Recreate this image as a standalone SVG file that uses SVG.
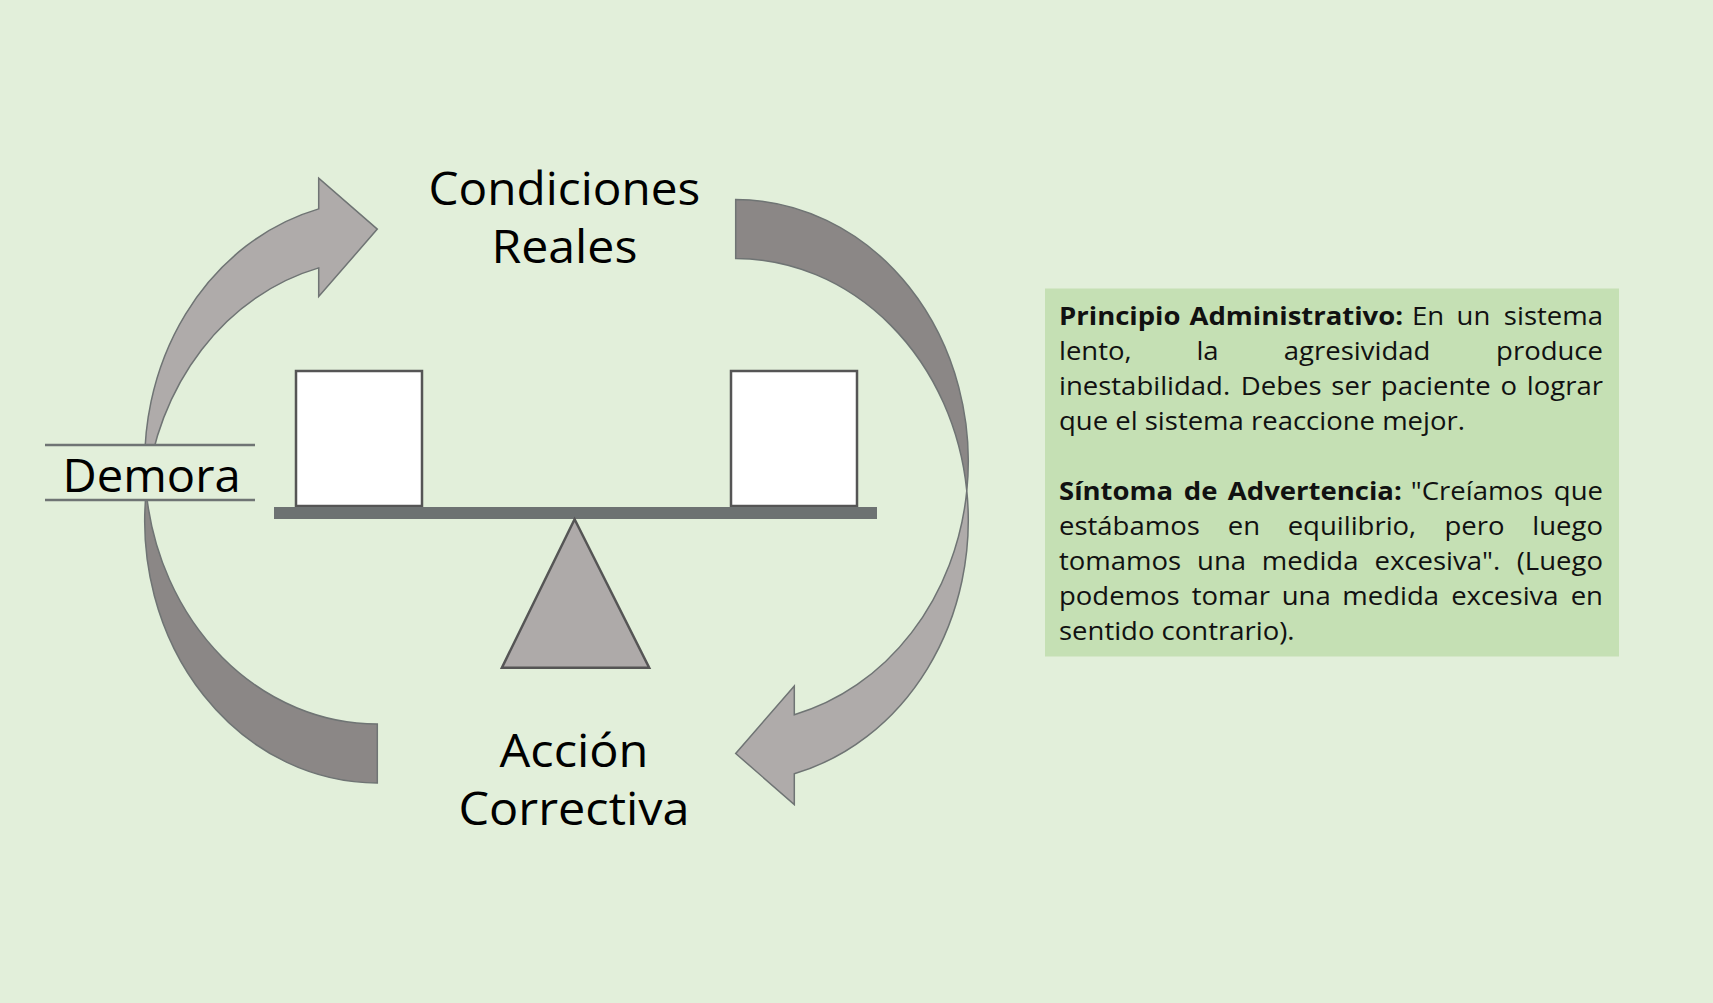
<svg xmlns="http://www.w3.org/2000/svg" width="1713" height="1003" viewBox="0 0 1713 1003">
<style>
.lbl{font-family:"Open Sans","Liberation Sans",sans-serif;font-size:45px;fill:#000;text-anchor:middle}
.body{font-family:"Open Sans","Liberation Sans",sans-serif;font-size:25px;fill:#111}
.b{font-weight:bold}
.e{text-anchor:end}
.dark{fill:#8b8786;stroke:#6f7474;stroke-width:1.5}
.light{fill:#afabaa;stroke:#6f7474;stroke-width:1.5}
.box{fill:#fff;stroke:#555;stroke-width:2.5}
</style>
<defs>
<g id="curvedArrow">
<path class="dark" d="M735.7,199.6 A232.6,261.8 0 0 1 966.8,490.9 A232.6,261.8 0 0 0 735.7,258.6 Z"/>
<path class="light" d="M966.8,490.9 A232.6,261.8 0 0 1 794.3,773.7 L794.3,804.5 L735.7,753.5 L794.3,686 L794.3,714.7 A232.6,261.8 0 0 0 966.8,490.9 Z"/>
</g>
</defs>
<rect x="0" y="0" width="1713" height="1003" fill="#e2efda"/>
<g id="connectors">
<use href="#curvedArrow"/>
<use href="#curvedArrow" transform="rotate(180 556.5 491.3)"/>
</g>
<g id="demora">
<rect x="45" y="445" width="210" height="55" fill="#e2efda"/>
<line x1="45" y1="445" x2="255" y2="445" stroke="#6f7474" stroke-width="2.5"/>
<line x1="45" y1="500" x2="255" y2="500" stroke="#6f7474" stroke-width="2.5"/>
<text class="lbl" x="151.6" y="491.7" textLength="178" lengthAdjust="spacingAndGlyphs">Demora</text>
</g>
<g id="condiciones">
<text class="lbl" x="564.4" y="205" textLength="271.7" lengthAdjust="spacingAndGlyphs">Condiciones</text>
<text class="lbl" x="564.4" y="263.3" textLength="146" lengthAdjust="spacingAndGlyphs">Reales</text>
</g>
<g id="accion">
<text class="lbl" x="574" y="766.7" textLength="149" lengthAdjust="spacingAndGlyphs">Acción</text>
<text class="lbl" x="574" y="825" textLength="231" lengthAdjust="spacingAndGlyphs">Correctiva</text>
</g>
<g id="balanza">
<rect class="box" x="296" y="371" width="126" height="135"/>
<rect class="box" x="731" y="371" width="126" height="135"/>
<rect x="274" y="507" width="603" height="12" fill="#6d7272"/>
<polygon points="574.6,519.3 501.9,667.7 649.2,667.7" fill="#aeaaa9" stroke="#555" stroke-width="2.5"/>
</g>
<g id="nota">
<rect x="1045" y="288.5" width="574" height="368" fill="#c5e0b4"/>
<g transform="translate(1059 0) scale(1.1 1)">
<text class="body" y="325"><tspan class="b" x="0">Principio</tspan><tspan class="b" x="118.6">Administrativo:</tspan><tspan x="320.9">En</tspan><tspan x="361.4">un</tspan><tspan class="e" x="494.5">sistema</tspan></text>
<text class="body" y="360"><tspan x="0">lento,</tspan><tspan x="124.9">la</tspan><tspan x="204.4">agresividad</tspan><tspan class="e" x="494.5">produce</tspan></text>
<text class="body" y="395"><tspan x="0">inestabilidad.</tspan><tspan x="165.3">Debes</tspan><tspan x="247.6">ser</tspan><tspan x="292.6">paciente</tspan><tspan x="401.3">o</tspan><tspan class="e" x="494.5">lograr</tspan></text>
<text class="body" x="0" y="430">que el sistema reaccione mejor.</text>
<text class="body" y="500"><tspan class="b" x="0">Síntoma</tspan><tspan class="b" x="113.5">de</tspan><tspan class="b" x="153.5">Advertencia:</tspan><tspan x="319.8">"Creíamos</tspan><tspan class="e" x="494.5">que</tspan></text>
<text class="body" y="535"><tspan x="0">estábamos</tspan><tspan x="153.4">en</tspan><tspan x="207.9">equilibrio,</tspan><tspan x="350.4">pero</tspan><tspan class="e" x="494.5">luego</tspan></text>
<text class="body" y="570"><tspan x="0">tomamos</tspan><tspan x="125.5">una</tspan><tspan x="184.3">medida</tspan><tspan x="286.8">excesiva".</tspan><tspan class="e" x="494.5">(Luego</tspan></text>
<text class="body" y="605"><tspan x="0">podemos</tspan><tspan x="120.6">tomar</tspan><tspan x="202.5">una</tspan><tspan x="257.6">medida</tspan><tspan x="356.5">excesiva</tspan><tspan class="e" x="494.5">en</tspan></text>
<text class="body" x="0" y="640">sentido contrario).</text>
</g>
</g>
</svg>
